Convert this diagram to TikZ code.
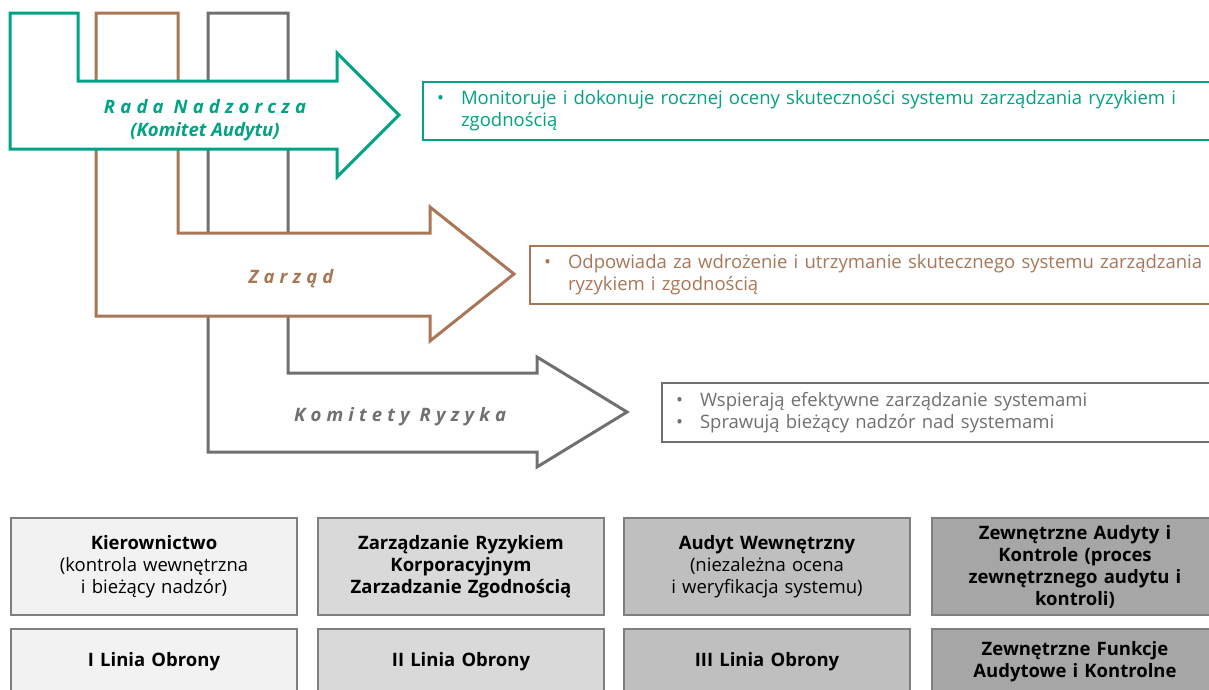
\documentclass[tikz,border=0pt]{standalone}
\usepackage{fontspec}
\setmainfont{Open Sans}
\newfontfamily\descfont[WordSpace=0.7]{Open Sans}
\newfontfamily\boxfont[WordSpace=0.8]{Open Sans}
\usetikzlibrary{positioning}
\definecolor{radagreen}{HTML}{00A383}
\definecolor{zarzadbrown}{HTML}{A97757}
\definecolor{komitetgray}{HTML}{707070}
\definecolor{boxedge}{HTML}{7F7F7F}
\newcommand{\spacedtitle}[1]{{\addfontfeature{LetterSpace=28}#1}}
\newcommand{\bulletline}[2]{\makebox[24pt][l]{\textbullet}#1\\\hspace*{24pt}#2}

\begin{document}
\begin{tikzpicture}[x=1pt, y=-1pt,
    outline/.style={line width=3pt, fill=white, line join=miter},
    title/.style={font=\bfseries\itshape\fontsize{18.5}{23}\selectfont, align=center, inner sep=0pt},
    desc/.style={draw, line width=2pt, fill=white, anchor=north west, minimum height=58pt, text width=780pt, align=left, inner xsep=14pt, inner ysep=0pt, font=\descfont\fontsize{18.5}{22}\selectfont},
    linebox/.style={draw=boxedge, line width=2pt, minimum width=286pt, text width=270pt, align=center, inner sep=0pt, font=\boxfont\fontsize{18.5}{22}\selectfont}
  ]
  \useasboundingbox (0,0) rectangle (1209,689);
  \clip (0,0) rectangle (1209,689);

  % arrows, back to front
  \draw[outline, draw=komitetgray] (208,13) -- (288,13) -- (288,373) -- (537,373) -- (537,357) -- (627,412) -- (537,467) -- (537,452) -- (208,452) -- cycle;
  \draw[outline, draw=zarzadbrown] (96,13) -- (178,13) -- (178,233) -- (430,233) -- (430,207) -- (514,274) -- (430,341) -- (430,316) -- (96,316) -- cycle;
  \draw[outline, draw=radagreen] (10,13) -- (78,13) -- (78,81) -- (337,81) -- (337,53) -- (399,115) -- (337,177) -- (337,149) -- (10,149) -- cycle;

  \node[title, text=radagreen] (rada) at (205,120) {\spacedtitle{Rada Nadzorcza}\\(Komitet Audytu)};
  \node[title, text=zarzadbrown] (zarzad) at (291,279) {\spacedtitle{Zarząd}};
  \node[title, text=komitetgray] (komitety) at (400,417) {\spacedtitle{Komitety Ryzyka}};

  % descriptions
  \node[desc, draw=radagreen, text=radagreen] (radadesc) at (422,81)
    {\bulletline{Monitoruje i dokonuje rocznej oceny skuteczności systemu zarządzania ryzykiem i}{zgodnością}};
  \node[desc, draw=zarzadbrown, text=zarzadbrown] (zarzaddesc) at (529,245)
    {\bulletline{Odpowiada za wdrożenie i utrzymanie skutecznego systemu zarządzania}{ryzykiem i zgodnością}};
  \node[desc, draw=komitetgray, text=komitetgray, minimum height=59pt] (komitetydesc) at (661,382)
    {\makebox[24pt][l]{\textbullet}Wspierają efektywne zarządzanie systemami\\\makebox[24pt][l]{\textbullet}Sprawują bieżący nadzór nad systemami};

  % lines of defence
  \node[linebox, fill=black!5, minimum height=97pt] (kier) at (154,566.5) {\textbf{Kierownictwo}\\(kontrola wewnętrzna\\i bieżący nadzór)};
  \node[linebox, fill=black!15, minimum height=97pt] (ryzyko) at (461,566.5) {\textbf{Zarządzanie Ryzykiem\\Korporacyjnym\\Zarzadzanie Zgodnością}};
  \node[linebox, fill=black!25, minimum height=97pt] (audyt) at (767,566.5) {\textbf{Audyt Wewnętrzny}\\(niezależna ocena\\i weryfikacja systemu)};
  \node[linebox, fill=black!35, minimum height=97pt] (zewn) at (1075,566.5) {\textbf{Zewnętrzne Audyty i\\Kontrole (proces\\zewnętrznego audytu i\\kontroli)}};

  \node[linebox, fill=black!5, minimum height=65pt] (linia1) at (154,661.5) {\textbf{I Linia Obrony}};
  \node[linebox, fill=black!15, minimum height=65pt] (linia2) at (461,661.5) {\textbf{II Linia Obrony}};
  \node[linebox, fill=black!25, minimum height=65pt] (linia3) at (767,661.5) {\textbf{III Linia Obrony}};
  \node[linebox, fill=black!35, minimum height=65pt] (linia4) at (1075,661.5) {\textbf{Zewnętrzne Funkcje\\Audytowe i Kontrolne}};
\end{tikzpicture}
\end{document}
